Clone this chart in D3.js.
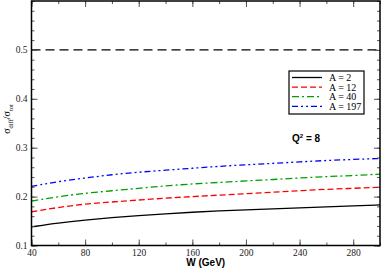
<!DOCTYPE html>
<html>
<head>
<meta charset="utf-8">
<script src="https://cdn.jsdelivr.net/npm/d3@7"></script>
<style>
  body { margin: 0; background: #fff; }
  .tick text { font-family: "Liberation Serif", "DejaVu Serif", serif; font-size: 9.5px; fill: #222; }
</style>
</head>
<body>
<svg id="chart" width="382" height="270"></svg>
<script>
// W values (GeV) and sigma_diff / sigma_tot for each nucleus
var wValues = [40, 60, 80, 100, 120, 140, 160, 180, 200, 220, 240, 260, 280, 300];
var ratioA2   = [0.138, 0.146, 0.152, 0.157, 0.161, 0.165, 0.168, 0.171, 0.173, 0.175, 0.177, 0.179, 0.181, 0.183];
var ratioA12  = [0.169, 0.178, 0.185, 0.189, 0.193, 0.197, 0.200, 0.203, 0.206, 0.209, 0.212, 0.215, 0.217, 0.219];
var ratioA40  = [0.191, 0.200, 0.207, 0.212, 0.217, 0.222, 0.226, 0.229, 0.232, 0.235, 0.238, 0.241, 0.243, 0.246];
var ratioA197 = [0.221, 0.231, 0.238, 0.245, 0.250, 0.254, 0.258, 0.262, 0.265, 0.268, 0.271, 0.274, 0.276, 0.278];
var blackLimit = 0.5;

var seriesNames = ['A = 2', 'A = 12', 'A = 40', 'A = 197'];
var xTicks = [40, 80, 120, 160, 200, 240, 280];
var yTicks = [0.1, 0.2, 0.3, 0.4, 0.5];

var series = [
  {name: seriesNames[0], values: ratioA2,   color: '#000000', dash: null},
  {name: seriesNames[1], values: ratioA12,  color: '#ff0000', dash: '6,3'},
  {name: seriesNames[2], values: ratioA40,  color: '#00a000', dash: '7,3,2,3'},
  {name: seriesNames[3], values: ratioA197, color: '#0000ff', dash: '6,3,2,3,2,3'}
];

var margin = {left: 31.5, right: 2, top: 1, bottom: 24.5};
var width = 382, height = 270;

var x = d3.scaleLinear().domain([40, 300]).range([margin.left, width - margin.right]);
var y = d3.scaleLinear().domain([0.1, 0.6]).range([height - margin.bottom, margin.top]);

var svg = d3.select('#chart');

var line = d3.line()
  .x(function(d, i) { return x(wValues[i]); })
  .y(function(d) { return y(d); })
  .curve(d3.curveBasis);

// dashed reference line
svg.append('line')
  .attr('x1', x(40)).attr('x2', x(300))
  .attr('y1', y(blackLimit)).attr('y2', y(blackLimit))
  .attr('stroke', '#000').attr('stroke-width', 1.3)
  .attr('stroke-dasharray', '9,5');

series.forEach(function(s) {
  svg.append('path')
    .datum(s.values)
    .attr('d', line)
    .attr('fill', 'none')
    .attr('stroke', s.color)
    .attr('stroke-width', 1.3)
    .attr('stroke-dasharray', s.dash);
});

// axes, ticks pointing inward on all four sides
var xMinor = d3.range(40, 301, 20);
var yMinor = d3.range(0.1, 0.6001, 0.02);

var axBottom = svg.append('g').attr('transform', `translate(0, ${ y(0.1) })`);
axBottom.call(d3.axisTop(x).tickValues(xMinor).tickSize(3).tickFormat('').tickSizeOuter(0));
axBottom.append('g').call(d3.axisTop(x).tickValues(xTicks).tickSize(6).tickFormat(d3.format('d')).tickSizeOuter(0));
axBottom.selectAll('.tick text').attr('y', 4).attr('dy', '0.71em');

var axTop = svg.append('g').attr('transform', `translate(0, ${ y(0.6) })`);
axTop.call(d3.axisBottom(x).tickValues(xMinor).tickSize(3).tickFormat('').tickSizeOuter(0));
axTop.append('g').call(d3.axisBottom(x).tickValues(xTicks).tickSize(6).tickFormat('').tickSizeOuter(0));

var axLeft = svg.append('g').attr('transform', `translate(${ x(40) }, 0)`);
axLeft.call(d3.axisRight(y).tickValues(yMinor).tickSize(3).tickFormat('').tickSizeOuter(0));
axLeft.append('g').call(d3.axisRight(y).tickValues(yTicks).tickSize(6).tickFormat(d3.format('.1f')).tickSizeOuter(0));
axLeft.selectAll('.tick text').attr('x', -4).attr('text-anchor', 'end');

var axRight = svg.append('g').attr('transform', `translate(${ x(300) }, 0)`);
axRight.call(d3.axisLeft(y).tickValues(yMinor).tickSize(3).tickFormat('').tickSizeOuter(0));
axRight.append('g').call(d3.axisLeft(y).tickValues(yTicks).tickSize(6).tickFormat('').tickSizeOuter(0));

svg.selectAll('.domain').remove();
svg.selectAll('.tick line').attr('stroke', '#555').attr('stroke-width', 1);

// frame
svg.append('rect')
  .attr('x', x(40)).attr('y', y(0.6))
  .attr('width', x(300) - x(40)).attr('height', y(0.1) - y(0.6))
  .attr('fill', 'none').attr('stroke', '#000').attr('stroke-width', 1.5);

// axis titles
svg.append('text')
  .attr('x', (x(40) + x(300)) / 2).attr('y', 266)
  .attr('text-anchor', 'middle')
  .style('font-family', 'Liberation Sans, Arial, sans-serif')
  .style('font-size', '10px').style('font-weight', 'bold')
  .text('W (GeV)');

var yTitle = svg.append('text')
  .attr('transform', 'translate(10, 119) rotate(-90)')
  .attr('text-anchor', 'middle')
  .style('font-family', 'Liberation Serif, serif')
  .style('font-size', '10px');
yTitle.append('tspan').text('σ');
yTitle.append('tspan').attr('dy', 2.5).style('font-size', '6.5px').text('diff');
yTitle.append('tspan').attr('dy', -2.5).text('/σ');
yTitle.append('tspan').attr('dy', 2.5).style('font-size', '6.5px').text('tot');

// legend
var legend = svg.append('g');
legend.append('rect')
  .attr('x', 289).attr('y', 71).attr('width', 75).attr('height', 43)
  .attr('fill', '#fff').attr('stroke', '#000').attr('stroke-width', 1.2);

series.forEach(function(s, i) {
  var ly = 77.5 + i * 9.6;
  legend.append('line')
    .attr('x1', 292).attr('x2', 322).attr('y1', ly).attr('y2', ly)
    .attr('stroke', s.color).attr('stroke-width', 1.3)
    .attr('stroke-dasharray', s.dash);
  legend.append('text')
    .attr('x', 329).attr('y', ly + 3.5)
    .style('font-family', 'Liberation Serif, serif')
    .style('font-size', '10px')
    .text(s.name);
});

// Q^2 annotation
var q = svg.append('text')
  .attr('x', 292).attr('y', 142)
  .style('font-family', 'Liberation Sans, Arial, sans-serif')
  .style('font-size', '10px').style('font-weight', 'bold');
q.append('tspan').text('Q');
q.append('tspan').attr('dy', -4).style('font-size', '6px').text('2');
q.append('tspan').attr('dy', 4).text(' = 8');
</script>
</body>
</html>
